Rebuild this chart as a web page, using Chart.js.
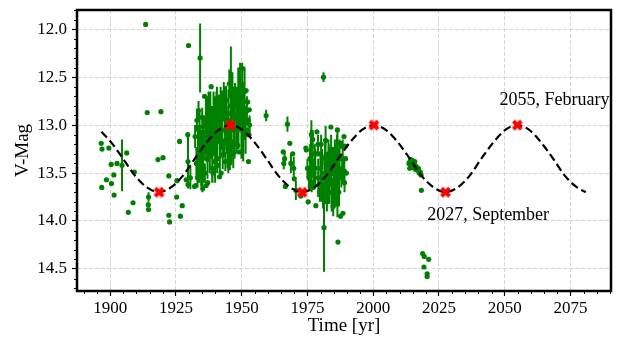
<!DOCTYPE html>
<html>
<head>
<meta charset="utf-8">
<script src="https://cdn.jsdelivr.net/npm/chart.js@4"></script>
<style>
  html, body { margin: 0; padding: 0; background: #fff; }
  canvas { display: block; }
</style>
</head>
<body>
<canvas id="lc" width="618" height="337"></canvas>
<script>
// observations: year, V magnitude, error (0 = no bar)
const obsYears = [
  // early plates
  1896.6, 1896.9, 1896.8, 1898.6, 1899.5, 1900.4, 1900.5, 1901.4, 1901.5, 1902.6,
  1904.5, 1906.3, 1906.9, 1908.7, 1909.2, 1913.5, 1914.1, 1914.6, 1914.5, 1914.6,
  1918.2, 1919.3, 1920.1, 1922.3, 1922.3, 1922.6, 1925.3, 1925.4, 1926.4, 1926.7,
  1927.4, 1928.9, 1929.5, 1929.6, 1929.6, 1929.8, 1930.5, 1932.1,
  // 1930s-1950s
  1932.3, 1932.5, 1932.8, 1933.0, 1933.2, 1933.4, 1933.6, 1934.0, 1934.1, 1934.2,
  1934.4, 1934.6, 1934.8, 1935.0, 1935.2, 1935.4, 1935.6, 1935.9, 1936.0, 1936.2,
  1936.5, 1936.7, 1937.0, 1937.1, 1937.3, 1937.6, 1937.9, 1938.1, 1938.4, 1938.6,
  1938.9, 1939.1, 1939.3, 1939.5, 1939.7, 1940.0, 1940.1, 1940.4, 1940.7, 1940.9,
  1941.2, 1941.4, 1941.6, 1941.9, 1942.2, 1942.5, 1942.8, 1943.0, 1943.2, 1943.5,
  1943.8, 1944.1, 1944.4, 1944.7, 1945.0, 1945.3, 1945.5, 1945.9, 1946.2, 1946.5,
  1946.8, 1947.1, 1947.5, 1947.9, 1948.1, 1948.3, 1948.5, 1948.8, 1949.1, 1949.4,
  1949.7, 1949.9, 1950.2, 1950.4, 1950.6, 1950.8, 1951.0, 1951.3, 1951.7, 1952.0,
  1952.3, 1952.5, 1952.3, 1952.6, 1952.8, 1952.9, 1953.0,
  1933.8, 1935.1, 1936.4, 1937.4, 1938.8, 1939.9, 1940.6, 1941.7, 1942.0, 1943.7,
  1944.9, 1946.0, 1947.3, 1948.7, 1950.0, 1951.1, 1951.5,
  // 1959-1972
  1959.3, 1965.8, 1966.0, 1966.3, 1966.6, 1967.4, 1968.3, 1968.7, 1969.4, 1969.8,
  1970.0, 1970.6, 1972.5,
  // 1974-1990
  1974.4, 1974.6, 1975.0, 1975.3, 1975.6, 1976.0, 1976.3, 1976.6, 1976.9, 1977.0,
  1977.2, 1977.5, 1977.8, 1978.2, 1978.6, 1978.8, 1979.1, 1979.4, 1979.7, 1980.0,
  1980.2, 1980.3, 1980.6, 1980.9, 1981.1, 1981.3, 1981.5, 1981.8, 1981.9, 1982.1,
  1982.4, 1982.7, 1983.0, 1983.3, 1983.6, 1983.9, 1984.2, 1984.5, 1984.8, 1985.1,
  1985.4, 1985.7, 1986.0, 1986.4, 1986.4, 1986.6, 1986.9, 1987.2, 1987.6, 1987.6,
  1987.9, 1988.1, 1988.2, 1988.5, 1988.9, 1989.1, 1989.3, 1989.5, 1989.8,
  1976.5, 1978.0, 1979.0, 1980.5, 1981.7, 1982.3, 1983.1, 1984.0, 1984.6, 1985.5,
  1986.2, 1987.0, 1988.4, 1989.0, 1985.0,
  // modern surveys
  2013.6, 2014.0, 2014.3, 2014.6, 2015.0, 2015.2, 2015.5, 2015.8, 2016.0, 2016.3,
  2016.8, 2017.2, 2017.5, 2017.9, 2018.2, 2013.9, 2018.3, 2018.8, 2019.4, 2021.1,
  2019.3, 2020.5, 2020.5
];
const obsMags = [
  13.19, 13.25, 13.65, 13.57, 13.24, 13.41, 13.61, 13.52, 13.73, 13.40,
  13.42, 13.29, 13.91, 13.81, 13.49, 11.95, 12.87, 13.75, 13.83, 13.88,
  13.36, 12.86, 13.34, 13.53, 13.94, 14.01, 13.75, 13.58, 13.17, 13.95,
  13.84, 13.57, 13.10, 13.38, 13.62, 12.17, 13.55, 13.64,

  13.12, 13.63, 13.40, 12.95, 13.55, 13.25, 12.85, 13.02, 13.12, 12.30,
  13.30, 13.54, 13.24, 12.92, 13.66, 13.45, 13.10, 12.70, 13.50, 13.20,
  13.63, 12.95, 13.36, 13.60, 13.05, 13.06, 13.30, 12.90, 12.60, 13.15,
  13.45, 13.50, 12.85, 13.13, 13.38, 13.00, 13.24, 12.80, 13.35, 13.42,
  12.95, 12.83, 13.54, 13.15, 13.50, 12.94, 13.31, 13.24, 12.75, 13.05,
  13.38, 12.74, 13.10, 13.20, 12.88, 12.57, 13.20, 12.80, 13.05, 12.70,
  13.30, 12.90, 12.68, 13.19, 12.95, 12.80, 13.21, 13.00, 13.28, 12.70,
  12.95, 13.05, 12.60, 12.41, 13.13, 12.75, 12.88, 12.95, 12.64, 12.85,
  12.76, 12.95, 13.05, 13.38, 13.10, 12.84, 13.00,
  13.30, 13.35, 13.00, 12.85, 13.20, 13.30, 12.95, 13.10, 12.75, 12.90,
  13.15, 13.00, 13.05, 12.65, 12.85, 12.65, 13.10,

  12.90, 13.28, 13.40, 13.35, 13.64, 12.99, 13.19, 13.40, 13.30, 13.45,
  13.56, 13.68, 13.74,

  13.24, 13.26, 13.45, 13.80, 13.55, 13.35, 13.36, 13.60, 13.30, 13.15,
  13.65, 13.50, 13.30, 13.84, 13.07, 13.30, 13.55, 13.30, 13.70, 13.45,
  13.20, 13.60, 13.35, 13.75, 12.50, 14.07, 13.50, 13.65, 13.16, 13.40,
  13.80, 13.55, 13.30, 13.70, 13.45, 13.02, 13.60, 13.38, 13.85, 13.50,
  13.25, 13.65, 13.42, 13.05, 13.51, 14.22, 13.70, 13.35, 13.19, 13.95,
  13.55, 13.22, 13.45, 13.92, 13.12, 13.60, 13.22, 13.35, 13.50,
  13.10, 13.45, 13.20, 13.55, 13.35, 13.60, 13.50, 13.25, 13.70, 13.45,
  13.30, 13.55, 13.35, 13.48, 13.75,

  13.40, 13.38, 13.36, 13.42, 13.37, 13.44, 13.40, 13.38, 13.46, 13.43,
  13.47, 13.45, 13.50, 13.49, 13.52, 13.45, 13.68, 14.34, 14.37, 14.40,
  14.48, 14.55, 14.58
];
const obsErrs = [
  0, 0, 0, 0, 0, 0, 0, 0, 0, 0,
  0.27, 0, 0, 0, 0, 0, 0, 0.05, 0, 0,
  0, 0, 0, 0, 0, 0, 0, 0, 0, 0,
  0, 0, 0, 0.28, 0, 0, 0.12, 0,

  0.12, 0, 0.15, 0.12, 0.10, 0.20, 0.10, 0.15, 0.10, 0.36,
  0.25, 0.10, 0.12, 0.10, 0, 0.15, 0.20, 0, 0.10, 0.15,
  0, 0.25, 0.20, 0, 0.30, 0.15, 0.20, 0.25, 0, 0.20,
  0.15, 0, 0.20, 0.15, 0, 0.30, 0.10, 0.15, 0.15, 0,
  0.25, 0.15, 0, 0.20, 0, 0.30, 0.15, 0.10, 0.20, 0.25,
  0.10, 0.15, 0.20, 0.25, 0.25, 0.15, 0.27, 0.62, 0.20, 0.25,
  0.15, 0.30, 0.12, 0, 0.35, 0.10, 0, 0.25, 0, 0.35,
  0.10, 0.30, 0.25, 0, 0.25, 0.20, 0, 0.15, 0, 0.15,
  0, 0, 0, 0, 0, 0, 0.10,
  0.30, 0.35, 0.30, 0.20, 0.40, 0.30, 0.35, 0.40, 0.15, 0.30,
  0.35, 0.40, 0.30, 0.25, 0.30, 0.25, 0.20,

  0.06, 0, 0.06, 0.08, 0, 0.08, 0, 0.10, 0, 0.12,
  0, 0.10, 0,

  0, 0, 0.10, 0, 0.12, 0.15, 0.31, 0.10, 0.25, 0.10,
  0, 0.15, 0.10, 0, 0, 0, 0.20, 0, 0.10, 0.15,
  0.10, 0.20, 0.10, 0.12, 0.05, 0.46, 0.20, 0.15, 0.15, 0.10,
  0.10, 0.25, 0.15, 0.12, 0.20, 0, 0.30, 0.15, 0.10, 0.25,
  0.10, 0.20, 0.15, 0, 0.45, 0, 0.15, 0.20, 0, 0,
  0.10, 0, 0.15, 0, 0, 0.10, 0, 0, 0,
  0.15, 0.20, 0.10, 0.25, 0.20, 0.20, 0.30, 0.15, 0.15, 0.25,
  0.20, 0.30, 0.20, 0.15, 0.10,

  0, 0, 0, 0, 0, 0, 0, 0, 0, 0,
  0, 0, 0, 0, 0, 0, 0, 0, 0, 0,
  0, 0, 0
];

// dashed model curve
const curveYears = [1896.7, 1900.4, 1904.9, 1909.5, 1914.0, 1918.6, 1923.1, 1927.6, 1932.2, 1936.7,
  1941.3, 1945.8, 1950.3, 1954.9, 1959.4, 1964.0, 1968.5, 1973.0, 1977.6, 1982.1,
  1986.7, 1991.2, 1995.7, 2000.3, 2004.8, 2009.4, 2013.9, 2018.4, 2023.0, 2027.5,
  2032.1, 2036.6, 2041.1, 2045.7, 2050.2, 2054.8, 2059.3, 2063.8, 2068.4, 2072.9,
  2077.5, 2080.8];
const curveMags = [13.07, 13.18, 13.35, 13.53, 13.65, 13.70, 13.65, 13.53, 13.35, 13.18,
  13.05, 13.00, 13.05, 13.18, 13.35, 13.53, 13.65, 13.70, 13.65, 13.53,
  13.35, 13.18, 13.05, 13.00, 13.05, 13.18, 13.35, 13.53, 13.65, 13.70,
  13.65, 13.53, 13.35, 13.18, 13.05, 13.00, 13.05, 13.18, 13.35, 13.53,
  13.65, 13.70];

// extrema of the model
const extremaYears = [1918.6, 1945.8, 1973.0, 2000.3, 2027.5, 2054.8];
const extremaMags = [13.7, 13.0, 13.7, 13.0, 13.7, 13.0];

const noteTexts = ['2027, September', '2055, February'];
const noteYears = [2020.5, 2048.0];
const noteMags = [13.94, 12.74];

const xTicks = [1900, 1925, 1950, 1975, 2000, 2025, 2050, 2075];
const yTicks = [12.0, 12.5, 13.0, 13.5, 14.0, 14.5];

const FONT = "'Liberation Serif', 'Times New Roman', serif";
Chart.defaults.font.family = FONT;
Chart.defaults.color = '#000';

function makeXMarker() {
    const c = document.createElement('canvas');
    c.width = 13; c.height = 13;
    const g = c.getContext('2d');
    g.strokeStyle = 'red';
    g.lineWidth = 4;
    g.beginPath();
    g.moveTo(2.5, 2.5); g.lineTo(10.5, 10.5);
    g.moveTo(10.5, 2.5); g.lineTo(2.5, 10.5);
    g.stroke();
    return c;
}

const errorBars = {
    id: 'errorBars',
    beforeDatasetsDraw(chart) {
        const {ctx, scales: {x, y}} = chart;
        ctx.save();
        ctx.strokeStyle = 'green';
        ctx.lineWidth = 2;
        ctx.beginPath();
        obsYears.forEach((yr, i) => {
            if (!obsErrs[i]) return;
            const px = x.getPixelForValue(yr);
            ctx.moveTo(px, y.getPixelForValue(obsMags[i] - obsErrs[i]));
            ctx.lineTo(px, y.getPixelForValue(obsMags[i] + obsErrs[i]));
        });
        ctx.stroke();
        ctx.restore();
    }
};

const frameAndNotes = {
    id: 'frameAndNotes',
    afterDraw(chart) {
        const {ctx, chartArea: a, scales: {x, y}} = chart;
        ctx.save();

        // minor ticks
        ctx.strokeStyle = '#000';
        ctx.lineWidth = 1;
        ctx.beginPath();
        for (let v = 1890; v <= 2090; v += 5) {
            if (v % 25 === 0) continue;
            const px = Math.round(x.getPixelForValue(v)) + 0.5;
            ctx.moveTo(px, a.bottom);
            ctx.lineTo(px, a.bottom + 3);
        }
        for (let k = 118; k <= 147; k++) {
            if (k % 5 === 0) continue;
            const py = Math.round(y.getPixelForValue(k / 10)) + 0.5;
            ctx.moveTo(a.left, py);
            ctx.lineTo(a.left - 3, py);
        }
        ctx.stroke();

        // frame
        ctx.lineWidth = 2.5;
        ctx.strokeRect(a.left, a.top, a.right - a.left, a.bottom - a.top);

        // annotations
        ctx.fillStyle = '#000';
        ctx.font = '18px ' + FONT;
        ctx.textAlign = 'left';
        ctx.textBaseline = 'middle';
        noteTexts.forEach((t, i) => {
            ctx.fillText(t, x.getPixelForValue(noteYears[i]), y.getPixelForValue(noteMags[i]));
        });
        ctx.restore();
    }
};

new Chart(document.getElementById('lc'), {
    type: 'scatter',
    data: {
        datasets: [
            {
                data: obsYears.map((yr, i) => ({x: yr, y: obsMags[i]})),
                backgroundColor: 'green',
                borderWidth: 0,
                pointRadius: 2.6,
                order: 3
            },
            {
                data: curveYears.map((yr, i) => ({x: yr, y: curveMags[i]})),
                showLine: true,
                borderColor: '#000',
                borderWidth: 2.2,
                borderDash: [8, 4],
                pointRadius: 0,
                cubicInterpolationMode: 'monotone',
                order: 2
            },
            {
                data: extremaYears.map((yr, i) => ({x: yr, y: extremaMags[i]})),
                pointStyle: makeXMarker(),
                pointRadius: 6,
                order: 1
            }
        ]
    },
    options: {
        responsive: false,
        animation: false,
        events: [],
        layout: { padding: { top: 10, right: 5, left: 0, bottom: 0 } },
        plugins: { legend: { display: false }, tooltip: { enabled: false } },
        scales: {
            x: {
                type: 'linear',
                min: 1887.4,
                max: 2090.4,
                afterBuildTicks: s => { s.ticks = xTicks.map(v => ({value: v})); },
                afterFit: s => { s.height = 46; s.paddingLeft = 0; s.paddingRight = 0; },
                ticks: {
                    autoSkip: false, maxRotation: 0, padding: 2,
                    font: { size: 17 },
                    callback: v => String(v)
                },
                grid: {
                    color: '#d4d4d4', lineWidth: 1,
                    tickColor: '#000', tickLength: 5, tickWidth: 1.2, tickBorderDash: []
                },
                border: { display: false, dash: [4, 2] },
                title: {
                    display: true, text: 'Time [yr]',
                    font: { size: 19 }, padding: { top: 0, bottom: 0 }
                }
            },
            y: {
                type: 'linear',
                reverse: true,
                min: 11.8,
                max: 14.73,
                afterBuildTicks: s => { s.ticks = yTicks.map(v => ({value: v})); },
                afterFit: s => { s.width = 77; s.paddingTop = 0; s.paddingBottom = 0; },
                ticks: {
                    autoSkip: false, padding: 5,
                    font: { size: 17 },
                    callback: v => v.toFixed(1)
                },
                grid: {
                    color: '#d4d4d4', lineWidth: 1,
                    tickColor: '#000', tickLength: 5, tickWidth: 1.2, tickBorderDash: []
                },
                border: { display: false, dash: [4, 2] },
                title: {
                    display: true, text: 'V-Mag',
                    font: { size: 19 }, padding: { top: 12, bottom: 0 }
                }
            }
        }
    },
    plugins: [errorBars, frameAndNotes]
});
</script>
</body>
</html>
